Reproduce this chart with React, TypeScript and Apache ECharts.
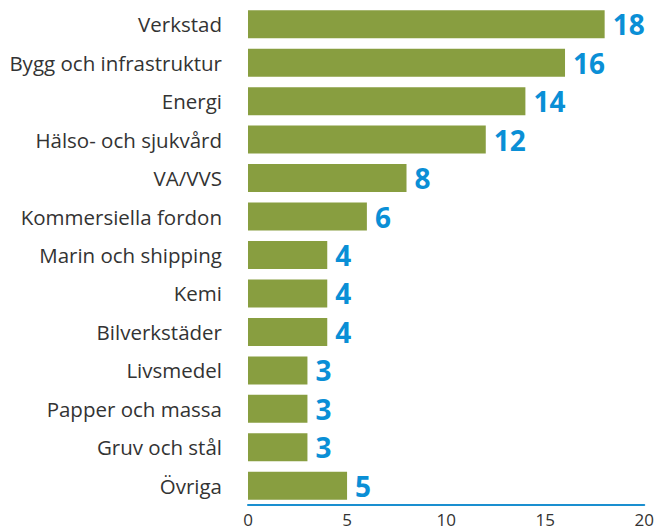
import React, { useEffect, useRef } from "react";
import * as echarts from "echarts";

const categories = [
  "Verkstad",
  "Bygg och infrastruktur",
  "Energi",
  "Hälso- och sjukvård",
  "VA/VVS",
  "Kommersiella fordon",
  "Marin och shipping",
  "Kemi",
  "Bilverkstäder",
  "Livsmedel",
  "Papper och massa",
  "Gruv och stål",
  "Övriga",
];
const values = [18, 16, 14, 12, 8, 6, 4, 4, 4, 3, 3, 3, 5];
const xTicks = [0, 5, 10, 15, 20];

export default function App() {
  const ref = useRef<HTMLDivElement>(null);
  useEffect(() => {
    const chart = echarts.init(ref.current!, null, { renderer: "svg" });
    chart.setOption({
      animation: false,
      grid: { left: 248, right: 12, top: 5, height: 500 },
      xAxis: {
        type: "value",
        min: xTicks[0],
        max: xTicks[xTicks.length - 1],
        interval: 5,
        splitLine: { show: false },
        axisLine: { show: true, lineStyle: { color: "#1a8fd0", width: 2 } },
        axisTick: { show: false },
        axisLabel: {
          color: "#333",
          fontSize: 17,
          fontFamily: "Open Sans",
          margin: 6,
        },
      },
      yAxis: {
        type: "category",
        inverse: true,
        data: categories,
        axisLine: { show: false },
        axisTick: { show: false },
        axisLabel: {
          color: "#333",
          fontSize: 20.5,
          fontFamily: "Open Sans",
          margin: 26,
        },
      },
      series: [
        {
          type: "bar",
          data: values,
          barWidth: 28,
          itemStyle: { color: "#889e40" },
          label: {
            show: true,
            position: "right",
            distance: 8,
            color: "#0a8fd6",
            fontSize: 28,
            fontWeight: "bold",
            fontFamily: "Open Sans",
          },
        },
      ],
    });
    return () => chart.dispose();
  }, []);
  return <div ref={ref} style={{ width: 657, height: 530, position: "absolute", left: 0, top: 0 }} />;
}
